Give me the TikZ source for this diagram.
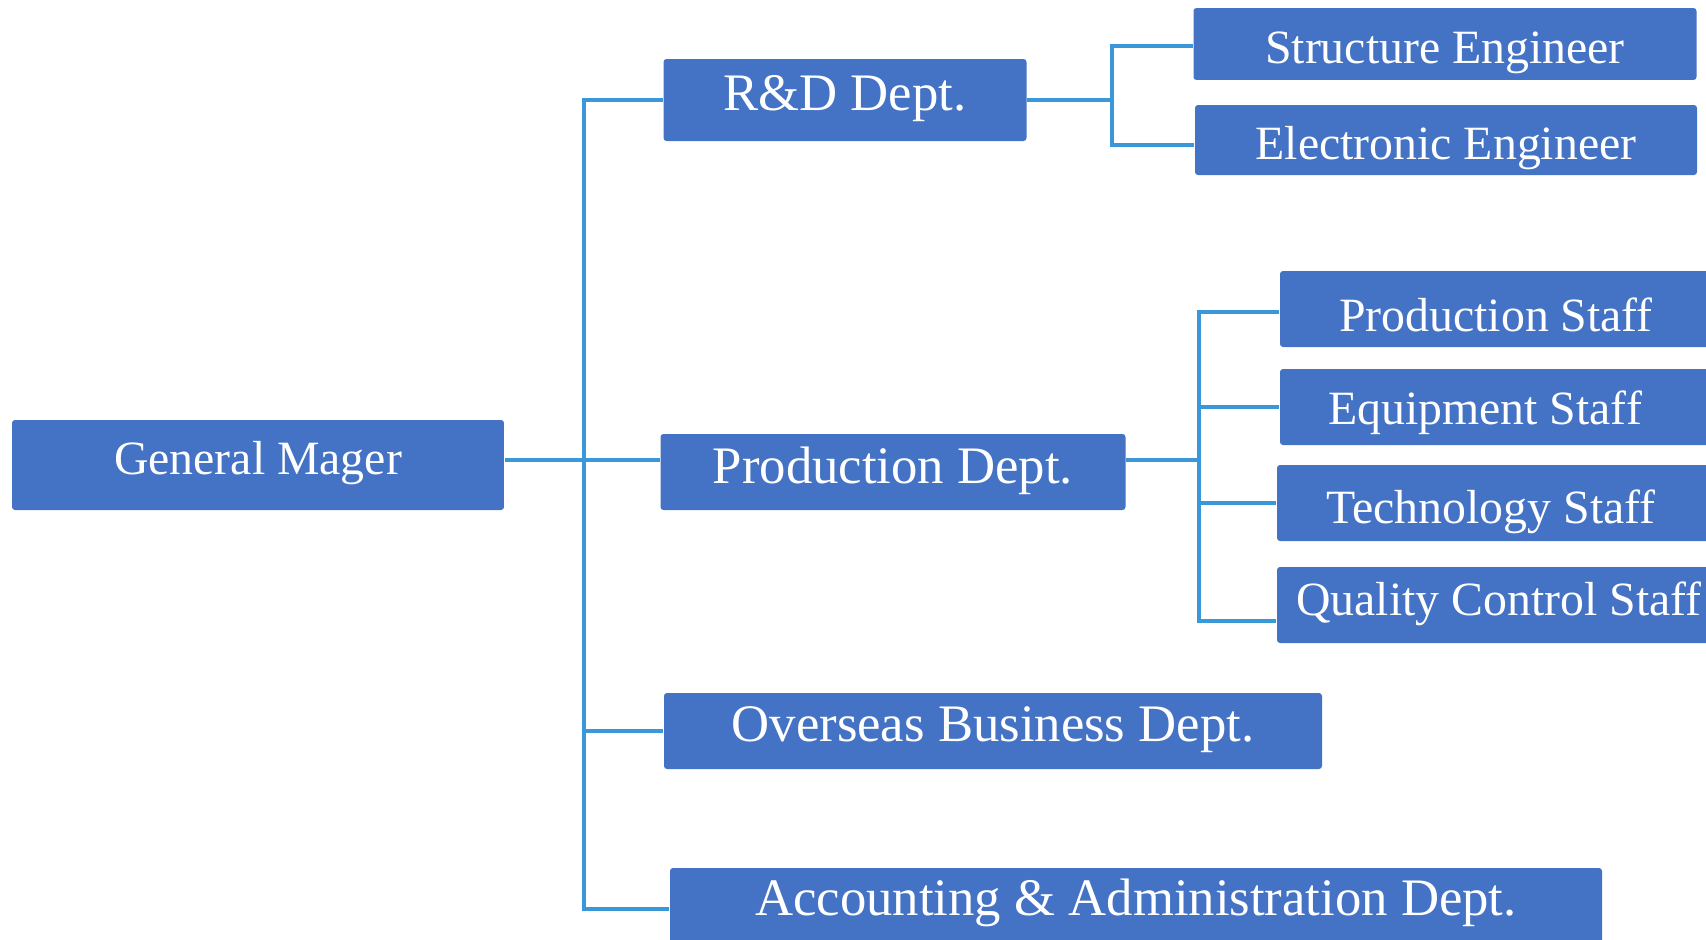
\documentclass[tikz,border=0pt]{standalone}
\usepackage{fontspec}
\setmainfont{Liberation Serif}
\definecolor{boxblue}{RGB}{68,114,196}
\definecolor{lineblue}{RGB}{58,152,216}

\begin{document}
\begin{tikzpicture}[x=0.1mm,y=-0.1mm,
    box/.style={fill=boxblue,text=white,rounded corners=0.3mm,inner sep=0pt,text depth=0pt},
    dept/.style={box,font=\fontsize{15}{18}\selectfont},
    staff/.style={box,font=\fontsize{13.6}{16}\selectfont},
    link/.style={draw=lineblue,line width=1pt}]
    \useasboundingbox (0,0) rectangle (1706,940);

    % General manager
    \node[staff,minimum width=49.2mm,minimum height=9mm,text height=1.8mm] (gm) at (258,465) {General Mager};

    % Departments
    \node[dept,minimum width=36.3mm,minimum height=8.2mm,text height=2mm] (rd) at (845,100) {R\&D Dept.};
    \node[dept,minimum width=46.5mm,minimum height=7.6mm,text height=2.2mm] (prod) at (893,472) {Production Dept.};
    \node[dept,minimum width=65.8mm,minimum height=7.6mm,text height=2mm] (ovs) at (993,731) {Overseas Business Dept.};
    \node[dept,minimum width=93.2mm,minimum height=8.2mm,text height=1.2mm] (acc) at (1136,909) {Accounting \& Administration Dept.};

    % R&D staff
    \node[staff,minimum width=50.3mm,minimum height=7.2mm,text height=3.8mm] (se) at (1445,44) {Structure Engineer};
    \node[staff,minimum width=50.2mm,minimum height=7mm,text height=4mm] (ee) at (1446,140) {Electronic Engineer};

    % Production staff
    \node[staff,minimum width=43.2mm,minimum height=7.6mm,text height=4.6mm] (ps) at (1496,309) {Production Staff};
    \node[staff,minimum width=43.2mm,minimum height=7.6mm,text height=3.4mm] (es) at (1496,407) {Equipment Staff\hspace*{2.2mm}};
    \node[staff,minimum width=43.6mm,minimum height=7.6mm,text height=4mm] (ts) at (1495,503) {Technology Staff\hspace*{0.8mm}};
    \node[staff,minimum width=44.4mm,minimum height=7.6mm,text height=2mm] (qc) at (1499,605) {Quality Control Staff};

    % Connectors
    \coordinate (bus) at (584,0);
    \coordinate (hub) at (584,460);
    \coordinate (rdbus) at (1112,0);
    \coordinate (pbus) at (1199,0);
    \coordinate (seend) at ([yshift=-0.2mm]se.west);
    \coordinate (eeend) at ([yshift=-0.5mm]ee.west);
    \coordinate (psend) at ([yshift=-0.3mm]ps.west);
    \coordinate (qcend) at ([yshift=-1.6mm]qc.west);
    \draw[link] (gm.east |- hub) -- (prod.west |- hub);
    \draw[link] (rd.west) -- (bus |- rd.west) -- (bus |- acc.west) -- (acc.west);
    \draw[link] (bus |- ovs.west) -- (ovs.west);
    \draw[link] (rd.east) -- (rdbus |- rd.east);
    \draw[link] (seend) -- (rdbus |- seend) -- (rdbus |- eeend) -- (eeend);
    \draw[link] (prod.east |- hub) -- (pbus |- hub);
    \draw[link] (psend) -- (pbus |- psend) -- (pbus |- qcend) -- (qcend);
    \foreach \n in {es,ts}
        \draw[link] (pbus |- \n.west) -- (\n.west);
\end{tikzpicture}
\end{document}
